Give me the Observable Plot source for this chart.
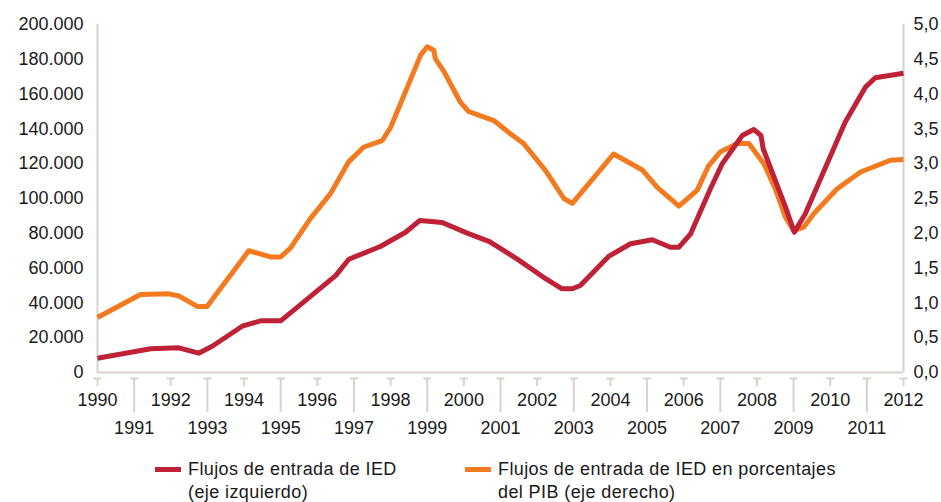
<!DOCTYPE html>
<html>
<head>
<meta charset="utf-8">
<script src="https://cdn.jsdelivr.net/npm/d3@7"></script>
<script src="https://cdn.jsdelivr.net/npm/@observablehq/plot@0.6"></script>
<style>
  html, body { margin: 0; padding: 0; background: #fff; }
  body { width: 941px; height: 502px; overflow: hidden; font-family: "Liberation Sans", Arial, sans-serif; color: #1a1a1a; }
  #legend { position: relative; height: 57px; font-size: 18px; letter-spacing: 0.4px; }
  #legend .sw { position: absolute; width: 26px; height: 5px; }
  #legend .lab { position: absolute; line-height: 23px; white-space: nowrap; }
</style>
</head>
<body>
<div id="chart"></div>
<div id="legend"></div>
<script>
// ---- Data ----
const redYears = [1990.0, 1991.45, 1992.22, 1992.76, 1993.13, 1993.95, 1994.45, 1995.0, 1995.6, 1996.5, 1996.86, 1997.72, 1998.41, 1998.8, 1999.41, 2000.09, 2000.7, 2001.45, 2002.23, 2002.68, 2002.96, 2003.18, 2003.95, 2004.55, 2005.14, 2005.64, 2005.87, 2006.19, 2006.73, 2007.05, 2007.6, 2007.91, 2008.11, 2008.17, 2008.78, 2009.02, 2009.32, 2010.41, 2010.96, 2011.23, 2012.0];
const redValues = [8200, 13600, 14200, 11100, 15100, 26600, 29700, 29700, 40000, 55700, 65100, 72400, 80600, 87400, 86200, 80100, 75200, 65300, 53900, 48100, 48100, 50000, 66700, 74000, 76300, 72000, 72000, 79700, 105600, 119900, 136200, 139700, 136200, 128600, 95000, 80600, 91200, 143900, 164000, 169400, 172000];

const orangeYears = [1990.0, 1991.17, 1991.95, 1992.22, 1992.72, 1992.99, 1994.13, 1994.72, 1995.0, 1995.27, 1995.81, 1996.36, 1996.86, 1997.27, 1997.77, 1998.0, 1998.82, 1999.0, 1999.18, 1999.22, 1999.45, 1999.91, 2000.13, 2000.82, 2001.27, 2001.63, 2002.23, 2002.73, 2002.96, 2004.09, 2004.87, 2005.28, 2005.87, 2006.37, 2006.68, 2007.0, 2007.46, 2007.78, 2008.19, 2008.5, 2008.78, 2009.0, 2009.28, 2009.55, 2010.19, 2010.83, 2011.64, 2012.0];
const orangePct = [0.79, 1.12, 1.13, 1.10, 0.95, 0.95, 1.75, 1.66, 1.66, 1.79, 2.21, 2.57, 3.03, 3.24, 3.33, 3.52, 4.56, 4.68, 4.63, 4.51, 4.33, 3.88, 3.75, 3.62, 3.43, 3.29, 2.90, 2.50, 2.43, 3.14, 2.91, 2.66, 2.39, 2.62, 2.97, 3.17, 3.29, 3.29, 3.00, 2.64, 2.23, 2.04, 2.09, 2.28, 2.64, 2.88, 3.05, 3.06];

const leftTicks = [0, 20000, 40000, 60000, 80000, 100000, 120000, 140000, 160000, 180000, 200000];
const evenYears = [1990, 1992, 1994, 1996, 1998, 2000, 2002, 2004, 2006, 2008, 2010, 2012];
const oddYears = [1991, 1993, 1995, 1997, 1999, 2001, 2003, 2005, 2007, 2009, 2011];

const legendLabels = ["Flujos de entrada de IED<br>(eje izquierdo)", "Flujos de entrada de IED en porcentajes<br>del PIB (eje derecho)"];

// ---- Styling ----
const RED = "#bf2136";
const ORANGE = "#f47a20";
const GREY = "#d8d2cd";
const K = 40000; // 5,0 % on the right axis corresponds to 200.000 on the left axis

const red = redYears.map((x, i) => ({x, y: redValues[i]}));
const orange = orangeYears.map((x, i) => ({x, y: orangePct[i] * K}));
const allYears = evenYears.concat(oddYears);

const fmtLeft = d3.formatLocale({decimal: ",", thousands: ".", grouping: [3], currency: ["", ""]}).format(",");
const fmtRight = d => (d / K).toFixed(1).replace(".", ",");
const capSymbol = {draw(ctx) { ctx.moveTo(-4, 0); ctx.lineTo(4, 0); }};

const chart = Plot.plot({
  width: 941,
  height: 445,
  marginLeft: 97,
  marginRight: 38,
  marginTop: 24,
  marginBottom: 73,
  style: {fontFamily: "'Liberation Sans', Arial, sans-serif", fontSize: "18px", color: "#1a1a1a", background: "#fff", overflow: "visible"},
  x: {domain: [1990, 2012]},
  y: {domain: [0, 200000]},
  marks: [
    Plot.axisY({ticks: leftTicks, tickSize: 0, tickPadding: 14, tickFormat: fmtLeft, label: null}),
    Plot.axisY({anchor: "right", ticks: leftTicks, tickSize: 0, tickPadding: 10, tickFormat: fmtRight, label: null}),
    Plot.ruleX([1990, 2012], {stroke: GREY, strokeWidth: 2}),
    Plot.ruleY([0], {stroke: GREY, strokeWidth: 2}),
    Plot.axisX({ticks: evenYears, tickSize: 8, tickPadding: 7, dy: 6, tickFormat: d => String(d), label: null, stroke: GREY, strokeWidth: 2}),
    Plot.axisX({ticks: oddYears, tickSize: 34, tickPadding: 9, dy: 6, tickFormat: d => String(d), label: null, stroke: GREY, strokeWidth: 2}),
    Plot.dot(allYears, {x: d => d, y: () => 0, dy: 6, symbol: capSymbol, r: 4, fill: "none", stroke: GREY, strokeWidth: 2}),
    Plot.line(orange, {x: "x", y: "y", stroke: ORANGE, strokeWidth: 5, strokeLinejoin: "round", strokeLinecap: "butt"}),
    Plot.line(red, {x: "x", y: "y", stroke: RED, strokeWidth: 5, strokeLinejoin: "round", strokeLinecap: "butt"})
  ]
});
document.getElementById("chart").appendChild(chart);

// ---- Legend ----
const legend = document.getElementById("legend");
const items = [{color: RED, sw: 155, tx: 188, label: legendLabels[0]}, {color: ORANGE, sw: 465, tx: 498, label: legendLabels[1]}];
for (const it of items) {
  const s = document.createElement("div");
  s.className = "sw";
  s.style.left = it.sw + "px";
  s.style.top = "21.5px";
  s.style.background = it.color;
  legend.appendChild(s);
  const t = document.createElement("div");
  t.className = "lab";
  t.style.left = it.tx + "px";
  t.style.top = "12.5px";
  t.innerHTML = it.label;
  legend.appendChild(t);
}
</script>
</body>
</html>
